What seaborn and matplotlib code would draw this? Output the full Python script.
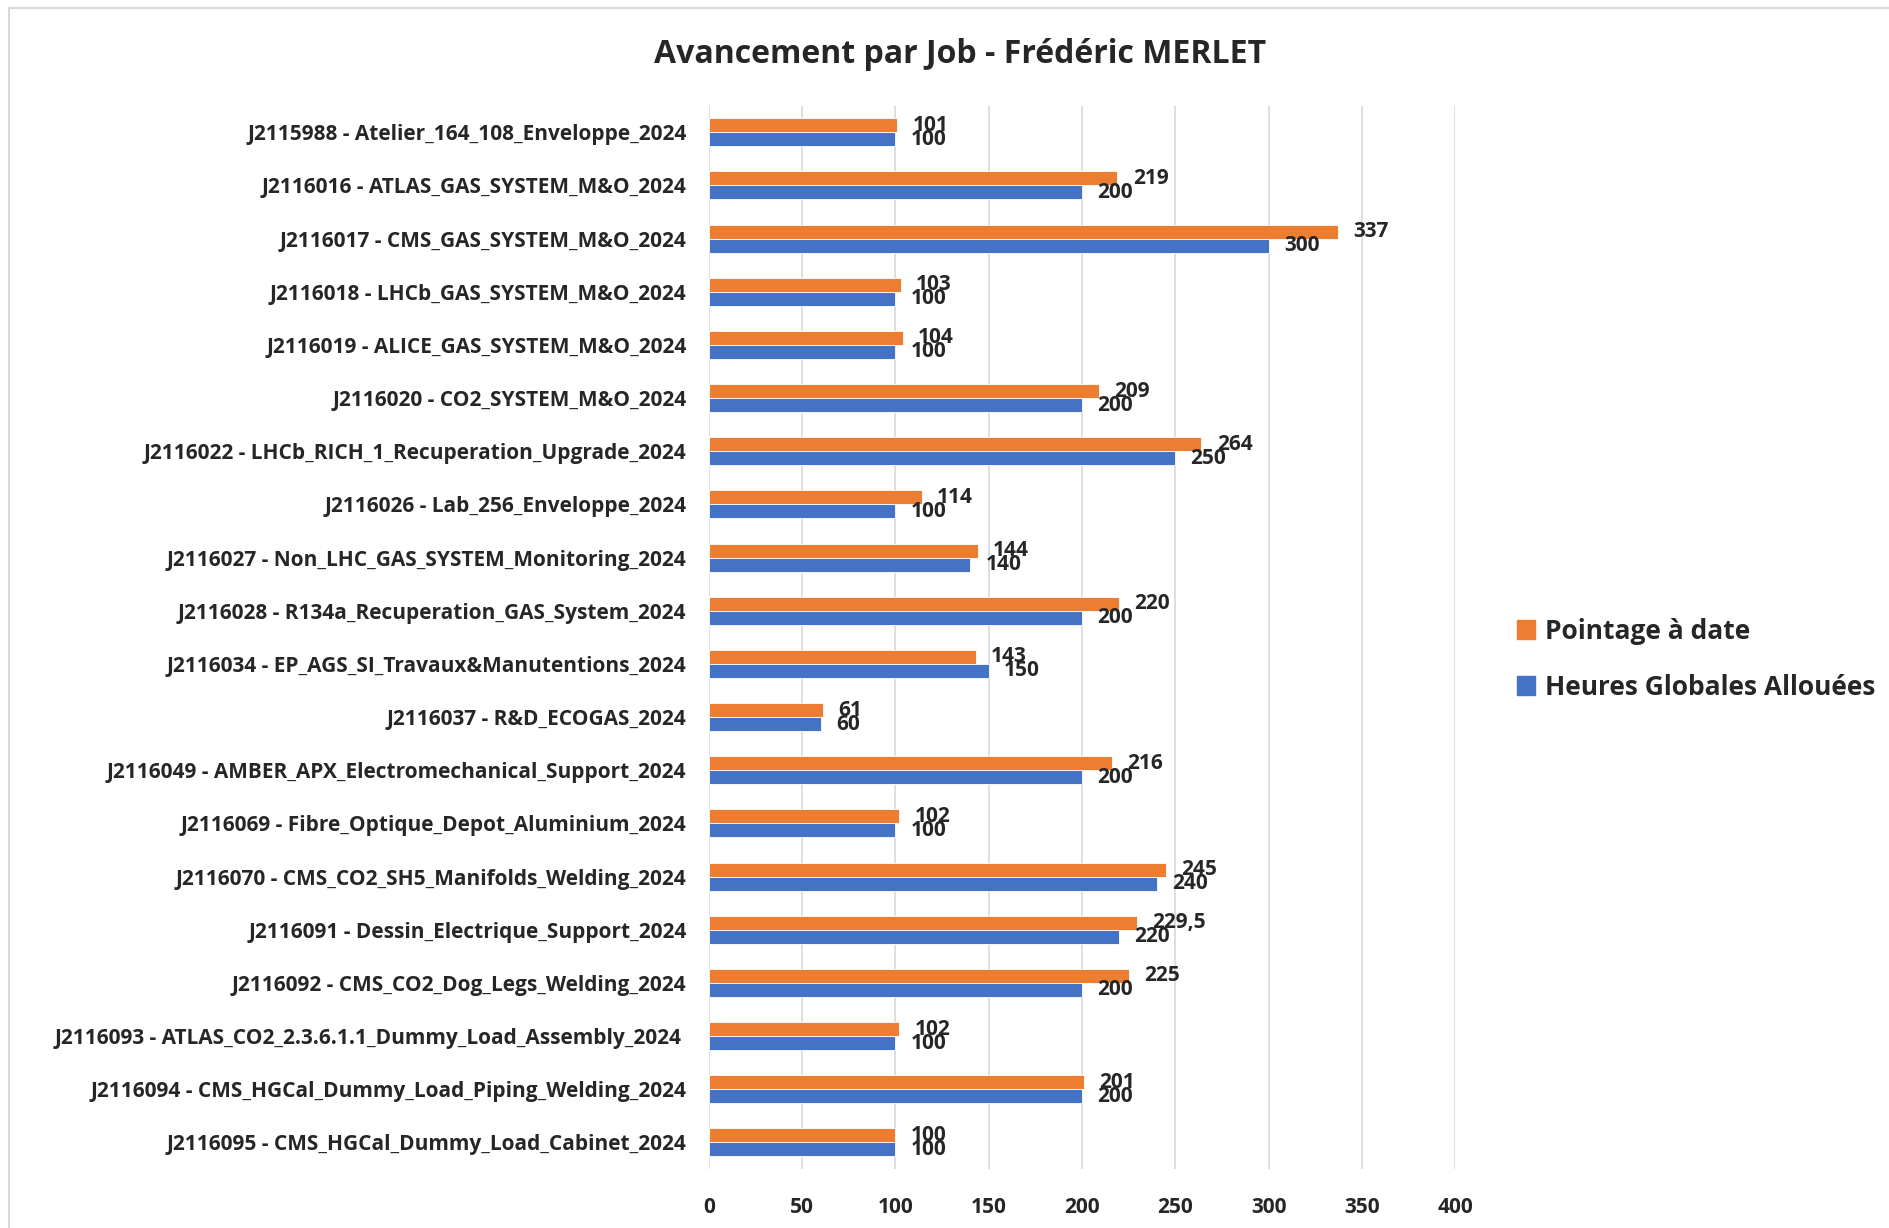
import pandas as pd
import seaborn as sns
import matplotlib.pyplot as plt
from matplotlib.patches import Patch, Rectangle

# data
jobs = [
    "J2115988 - Atelier_164_108_Enveloppe_2024",
    "J2116016 - ATLAS_GAS_SYSTEM_M&O_2024",
    "J2116017 - CMS_GAS_SYSTEM_M&O_2024",
    "J2116018 - LHCb_GAS_SYSTEM_M&O_2024",
    "J2116019 - ALICE_GAS_SYSTEM_M&O_2024",
    "J2116020 - CO2_SYSTEM_M&O_2024",
    "J2116022 - LHCb_RICH_1_Recuperation_Upgrade_2024",
    "J2116026 - Lab_256_Enveloppe_2024",
    "J2116027 - Non_LHC_GAS_SYSTEM_Monitoring_2024",
    "J2116028 - R134a_Recuperation_GAS_System_2024",
    "J2116034 - EP_AGS_SI_Travaux&Manutentions_2024",
    "J2116037 - R&D_ECOGAS_2024",
    "J2116049 - AMBER_APX_Electromechanical_Support_2024",
    "J2116069 - Fibre_Optique_Depot_Aluminium_2024",
    "J2116070 - CMS_CO2_SH5_Manifolds_Welding_2024",
    "J2116091 - Dessin_Electrique_Support_2024",
    "J2116092 - CMS_CO2_Dog_Legs_Welding_2024",
    "J2116093 - ATLAS_CO2_2.3.6.1.1_Dummy_Load_Assembly_2024 ",
    "J2116094 - CMS_HGCal_Dummy_Load_Piping_Welding_2024",
    "J2116095 - CMS_HGCal_Dummy_Load_Cabinet_2024",
]
pointage = [101, 219, 337, 103, 104, 209, 264, 114, 144, 220,
            143, 61, 216, 102, 245, 229.5, 225, 102, 201, 100]
heures = [100, 200, 300, 100, 100, 200, 250, 100, 140, 200,
          150, 60, 200, 100, 240, 220, 200, 100, 200, 100]
series = ["Pointage à date", "Heures Globales Allouées"]
colors = ["#ED7D31", "#4472C4"]

df = pd.DataFrame({
    "job": jobs * 2,
    "value": pointage + heures,
    "serie": [series[0]] * len(jobs) + [series[1]] * len(jobs),
})

sns.set_style("white")
plt.rcParams["font.family"] = ["Open Sans", "DejaVu Sans"]

fig = plt.figure(figsize=(18.9, 12.28), dpi=100)
ax = fig.add_axes([0.375, 0.048, 0.395, 0.866])

sns.barplot(data=df, x="value", y="job", hue="serie", hue_order=series,
            palette=colors, saturation=1, orient="h", width=0.527, ax=ax,
            legend=False, edgecolor="white", linewidth=0.6)

def fmt(v):
    return str(int(v)) if v == int(v) else str(v).replace(".", ",")

for cont, vals in zip(ax.containers, [pointage, heures]):
    ax.bar_label(cont, labels=[fmt(v) for v in vals], padding=11,
                 fontsize=15, fontweight="bold")

ax.set_xlim(0, 400)
ax.set_xticks(range(0, 401, 50))
ax.grid(axis="x", color="#d9d9d9", linewidth=1.2)
ax.set_axisbelow(True)
ax.set_xlabel("")
ax.set_ylabel("")
for s in ax.spines.values():
    s.set_visible(False)
ax.tick_params(axis="both", length=0, labelsize=15)
ax.tick_params(axis="y", pad=16)
ax.tick_params(axis="x", pad=20)
for t in ax.get_xticklabels() + ax.get_yticklabels():
    t.set_fontweight("bold")

fig.text(0.508, 0.956, "Avancement par Job - Frédéric MERLET",
         ha="center", va="center", fontsize=23, fontweight="bold")

handles = [Patch(color=c, label=s) for c, s in zip(colors, series)]
leg = fig.legend(handles=handles, loc="center left", bbox_to_anchor=(0.797, 0.463),
                 frameon=False, fontsize=19, handlelength=0.7, handleheight=0.7,
                 handletextpad=0.35, labelspacing=1.1, borderaxespad=0)
for t in leg.get_texts():
    t.set_fontweight("bold")

# light chart frame
fig.patches.append(Rectangle((9 / 1890, -0.05), 1.2, 1.05 - 8 / 1228,
                             transform=fig.transFigure, fill=False,
                             edgecolor="#d9d9d9", linewidth=1.5))

fig.savefig("out.png", dpi=100)
